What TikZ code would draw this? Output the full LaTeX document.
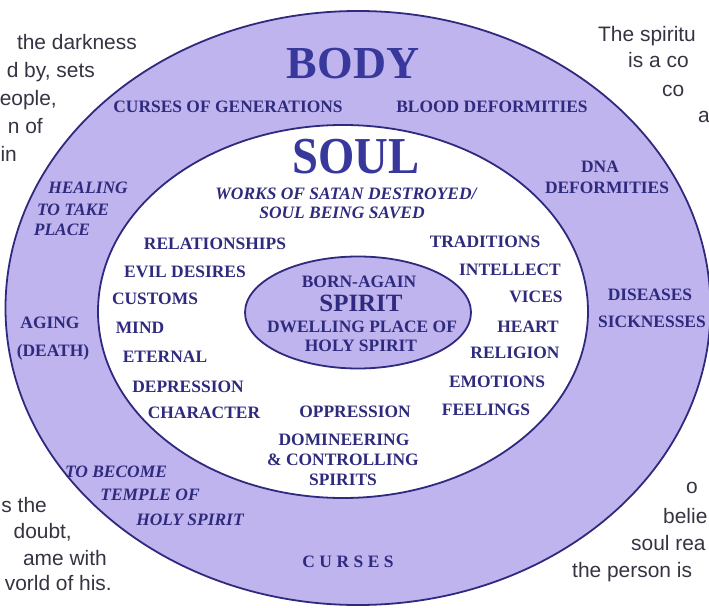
\documentclass[tikz,border=0pt]{standalone}
\usepackage{fontspec}
\setmainfont{Liberation Serif}
\newfontfamily\sidefont{Liberation Sans}
\usetikzlibrary{calc}
\definecolor{ink}{RGB}{46,42,126}
\definecolor{headink}{RGB}{56,56,156}
\definecolor{lav}{RGB}{192,180,238}
\definecolor{prose}{RGB}{52,52,66}
\tikzset{
  ring/.style={draw=ink, line width=1.8bp},
  lbl/.style={text=ink, inner sep=0pt, font=\fontsize{17.5}{19}\selectfont\bfseries},
  ilbl/.style={lbl, font=\fontsize{17.5}{19}\selectfont\bfseries\itshape},
  head/.style={text=headink, inner sep=0pt, font=\bfseries},
  prosel/.style={text=prose, inner sep=0pt, anchor=base east, font=\sidefont\fontsize{21}{25}\selectfont},
  proser/.style={prosel, anchor=base west}
}
\begin{document}
\begin{tikzpicture}[x=1bp,y=-1bp]
\useasboundingbox (0,0) rectangle (709,608);
\clip (0,0) rectangle (709,608);
\fill[white] (0,0) rectangle (709,608);
\filldraw[ring, fill=lav] (358,308) ellipse [x radius=352.5bp, y radius=297bp];
\filldraw[ring, fill=white] (343,311.5) ellipse [x radius=245bp, y radius=186.5bp];
\filldraw[ring, fill=lav] (358,312.5) ellipse [x radius=113bp, y radius=56bp];
% body ring
\node[head, font=\fontsize{46}{48}\selectfont\bfseries] (body) at (353,64) {BODY};
\node[lbl] (cgen) at (228,107) {CURSES OF GENERATIONS};
\node[lbl] (blood) at (492,107) {BLOOD DEFORMITIES};
\node[lbl] (dna) at (600,167) {DNA};
\node[lbl] (dnadef) at (607,188) {DEFORMITIES};
\node[ilbl] (heal1) at (88,188) {HEALING};
\node[ilbl] (heal2) at (73,210) {TO TAKE};
\node[ilbl] (heal3) at (62,230) {PLACE};
\node[lbl] (aging) at (50,323) {AGING};
\node[lbl] (death) at (53,352) {(DEATH)};
\node[lbl] (dis) at (650,295) {DISEASES};
\node[lbl] (sick) at (652,322) {SICKNESSES};
\node[ilbl] (temp1) at (116,472) {TO BECOME};
\node[ilbl] (temp2) at (150,495) {TEMPLE OF};
\node[ilbl] (temp3) at (190,520) {HOLY SPIRIT};
\node[lbl] (curses) at (348,562) {C\hspace{4.5bp}U\hspace{4.5bp}R\hspace{4.5bp}S\hspace{4.5bp}E\hspace{4.5bp}S};
% soul ring
\node[head, font=\fontsize{52}{54}\selectfont\bfseries] (soul) at (356,157) {\scalebox{0.9}[1]{SOUL}};
\node[ilbl] (works) at (346,194) {WORKS OF SATAN DESTROYED/};
\node[ilbl] (saved) at (342,213) {SOUL BEING SAVED};
\node[lbl] (rel) at (215,244) {RELATIONSHIPS};
\node[lbl] (trad) at (485,242) {TRADITIONS};
\node[lbl] (evil) at (185,272) {EVIL DESIRES};
\node[lbl] (intel) at (510,270) {INTELLECT};
\node[lbl] (cust) at (155,299) {CUSTOMS};
\node[lbl] (vices) at (536,297) {VICES};
\node[lbl] (mind) at (140,328) {MIND};
\node[lbl] (heart) at (528,327) {HEART};
\node[lbl] (etern) at (165,357) {ETERNAL};
\node[lbl] (relig) at (515,353) {RELIGION};
\node[lbl] (depr) at (188,387) {DEPRESSION};
\node[lbl] (emot) at (497,382) {EMOTIONS};
\node[lbl] (char) at (204,413) {CHARACTER};
\node[lbl] (oppr) at (355,412) {OPPRESSION};
\node[lbl] (feel) at (486,410) {FEELINGS};
\node[lbl] (dom1) at (344,440) {DOMINEERING};
\node[lbl] (dom2) at (343,460) {\& CONTROLLING};
\node[lbl] (dom3) at (343,480) {SPIRITS};
% spirit core
\node[lbl] (born) at (359,282) {BORN-AGAIN};
\node[lbl, font=\fontsize{25}{27}\selectfont\bfseries] (spirit) at (361,303) {SPIRIT};
\node[lbl] (dwell) at (362,327) {DWELLING PLACE OF};
\node[lbl] (holy) at (361,346) {HOLY SPIRIT};
% cut-off prose at the edges
\node[prosel] (tl1) at (137,50) {the darkness};
\node[prosel] (tl2) at (95,78) {d by, sets};
\node[prosel] (tl3) at (57,106) {eople,};
\node[prosel] (tl4) at (43,134) {n of};
\node[prosel] (tl5) at (17,162) {in};
\node[prosel] (bl1) at (47,512) {s the};
\node[prosel] (bl2) at (72,538) {doubt,};
\node[prosel] (bl3) at (107,565) {ame with};
\node[prosel] (bl4) at (112,590) {vorld of his.};
\node[proser] (tr1) at (598,42) {The spiritu};
\node[proser] (tr2) at (628,68) {is a co};
\node[proser] (tr3) at (662,97) {co};
\node[proser] (tr4) at (698,123) {a};
\node[proser] (br1) at (686,493) {o};
\node[proser] (br2) at (663,523) {belie};
\node[proser] (br3) at (631,550) {soul rea};
\node[proser] (br4) at (572,577) {the person is};
\end{tikzpicture}
\end{document}
